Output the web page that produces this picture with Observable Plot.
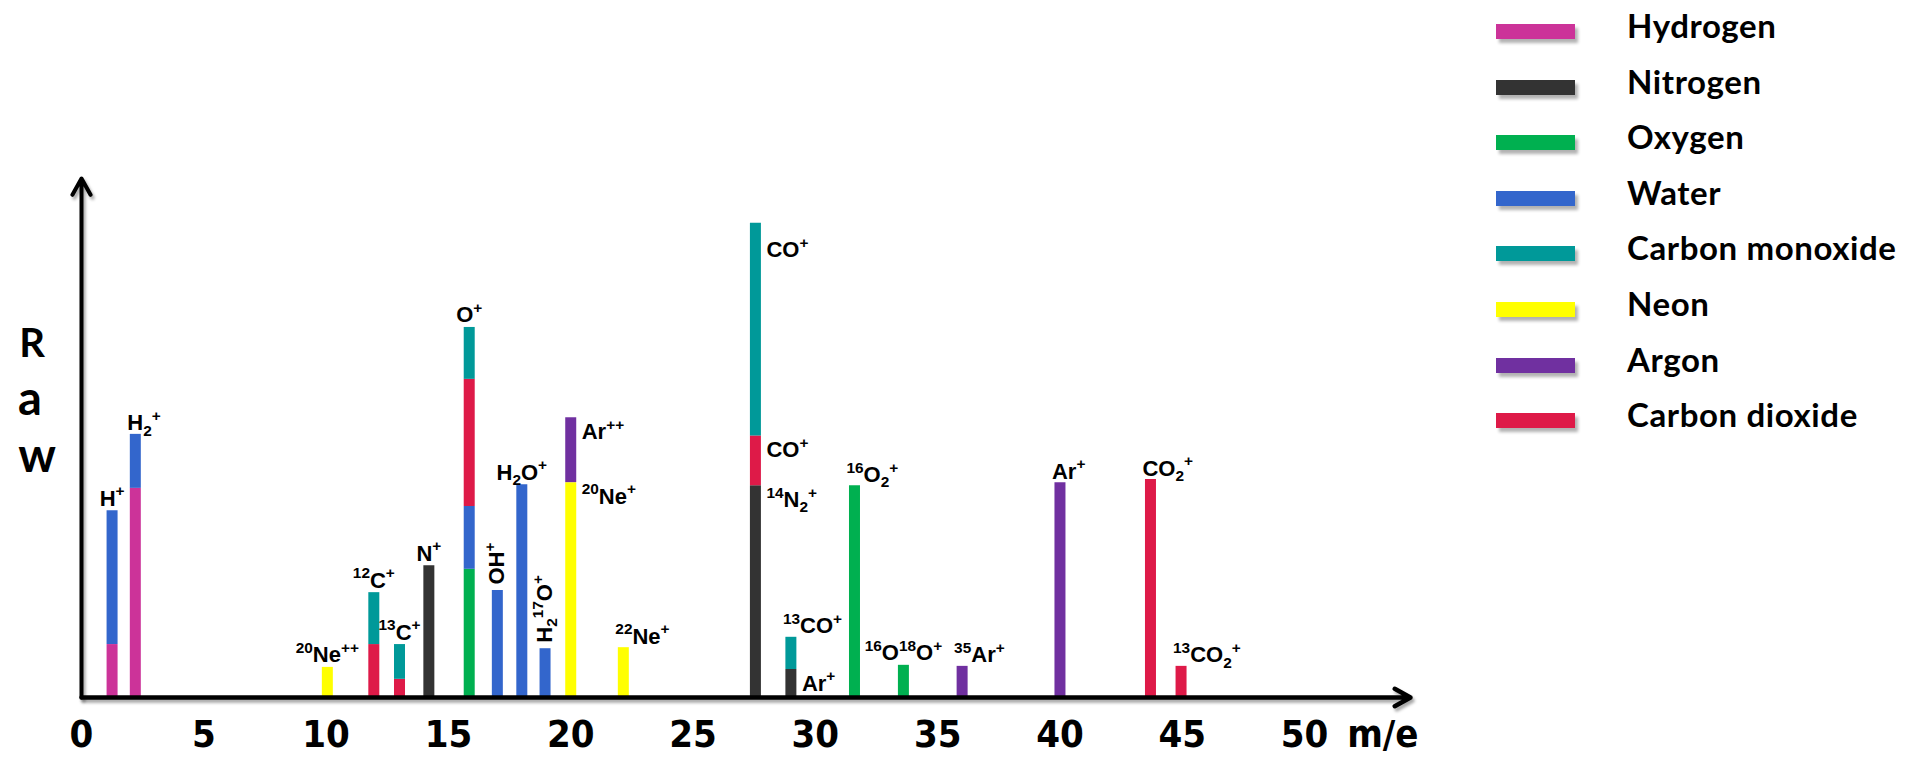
<!DOCTYPE html>
<html>
<head>
<meta charset="utf-8">
<script src="https://cdn.jsdelivr.net/npm/d3@7"></script>
<script src="https://cdn.jsdelivr.net/npm/@observablehq/plot@0.6"></script>
<style>
  html, body { margin: 0; padding: 0; background: #ffffff; }
  #wrap { position: relative; width: 1921px; height: 764px; overflow: hidden; background: #fff; }
  #chart { position: absolute; left: 0; top: 0; }
  #legend { position: absolute; left: 1496px; top: 0; font-family: Lato, "Open Sans", sans-serif; font-weight: bold; font-size: 33px; letter-spacing: 0.6px; color: #000; }
  .item { position: absolute; left: 0; height: 15px; white-space: nowrap; }
  .sw { position: absolute; left: 0; top: 0; width: 79px; height: 15px; box-shadow: 3px 4px 3px rgba(0,0,0,0.3); }
  .lab { position: absolute; left: 131px; top: -18px; line-height: 1.2; }
  #ylab { position: absolute; left: 0; top: 0; }
  .axisline { filter: drop-shadow(2px 3px 1.5px rgba(0,0,0,0.35)); }
  g[aria-label="x-axis tick label"] text { font-weight: bold; }
</style>
</head>
<body>
<div id="wrap">
  <div id="chart"></div>
  <div id="ylab"></div>
  <div id="legend"></div>
</div>
<script>
// ---------------- data ----------------
const gases = ["Hydrogen", "Nitrogen", "Oxygen", "Water", "Carbon monoxide", "Neon", "Argon", "Carbon dioxide"];
const gasColors = ["#CC3399", "#333333", "#00B050", "#3366CC", "#009999", "#FFFF00", "#7030A0", "#DE1A48"];

// peak positions (m/e) as drawn
const peakMz = [1.25, 2.2, 10.05, 11.95, 13.0, 14.2, 15.85, 17.0, 18.0, 18.95, 20.0, 22.15, 27.55, 29.0, 31.6, 33.6, 36.0, 40.0, 43.7, 44.95];

// stacked contributions, bottom to top (peak index, gas, raw intensity)
const segPeak  = [0, 0, 1, 1, 2, 3, 3, 4, 4, 5, 6, 6, 6, 6, 7, 8, 9, 10, 10, 11, 12, 12, 12, 13, 13, 14, 15, 16, 17, 18, 19];
const segGas   = ["Hydrogen", "Water", "Hydrogen", "Water", "Neon", "Carbon dioxide", "Carbon monoxide", "Carbon dioxide", "Carbon monoxide", "Nitrogen",
                  "Oxygen", "Water", "Carbon dioxide", "Carbon monoxide", "Water", "Water", "Water", "Neon", "Argon", "Neon",
                  "Nitrogen", "Carbon dioxide", "Carbon monoxide", "Nitrogen", "Carbon monoxide", "Oxygen", "Oxygen", "Argon", "Argon", "Carbon dioxide", "Carbon dioxide"];
const segValue = [10.2, 25.8, 40.3, 10.4, 5.8, 10.2, 10.0, 3.5, 6.7, 25.4,
                  24.7, 12.1, 24.5, 10.0, 20.6, 41.0, 9.4, 41.4, 12.5, 9.6,
                  40.8, 9.6, 41.0, 5.4, 6.2, 40.8, 6.2, 6.0, 41.4, 42.0, 6.0];

// peak labels: text (^{..} superscript, _{..} subscript), peak index, stack level (-1 = top), placement
const labelText  = ["H^{+}", "H_{2}^{+}", "^{20}Ne^{++}", "^{12}C^{+}", "^{13}C^{+}", "N^{+}", "O^{+}", "OH^{+}", "H_{2}O^{+}", "H_{2}^{17}O^{+}",
                    "Ar^{++}", "^{20}Ne^{+}", "^{22}Ne^{+}", "CO^{+}", "CO^{+}", "^{14}N_{2}^{+}", "^{13}CO^{+}", "Ar^{+}", "^{16}O_{2}^{+}", "^{16}O^{18}O^{+}",
                    "^{35}Ar^{+}", "Ar^{+}", "CO_{2}^{+}", "^{13}CO_{2}^{+}"];
const labelPeak  = [0, 1, 2, 3, 4, 5, 6, 7, 8, 9, 10, 10, 11, 12, 12, 12, 13, 13, 14, 15, 16, 17, 18, 19];
const labelLevel = [-1, -1, -1, -1, -1, -1, -1, -1, -1, -1, 2, 1, -1, 3, 2, 1, -1, 1, -1, -1, -1, -1, -1, -1];
const labelPlace = ["above", "aboveStart", "above", "above", "above", "above", "above", "rotated", "above", "rotated",
                    "right", "right", "aboveStart", "rightLow", "right", "right", "aboveStart", "right", "aboveStart", "above",
                    "aboveStart", "aboveStart", "aboveStart", "aboveStart"];

const xTicks = [0, 5, 10, 15, 20, 25, 30, 35, 40, 45, 50];
const xAxisEnd = 54.33;   // arrow tip of the m/e axis
const yAxisEnd = 100;     // arrow tip of the Raw axis
const xTitle = "m/e";
const yTitle = ["R", "a", "w"];

// ---------------- build ----------------
const segments = segPeak.map((p, i) => ({mz: peakMz[p], peak: p, gas: segGas[i], value: segValue[i]}));

function levelTop(peak, level) {
  const segs = segments.filter(s => s.peak === peak);
  const n = level < 0 ? segs.length : level;
  return d3.sum(segs.slice(0, n), s => s.value);
}
const labels = labelText.map((t, i) => ({
  text: t, x: peakMz[labelPeak[i]], y: levelTop(labelPeak[i], labelLevel[i]), place: labelPlace[i]
}));

const LBL = 22;
const labelFont = "'Liberation Sans', Arial, sans-serif";
const narrowFont = "'Liberation Sans Narrow', 'Arial Narrow', 'DejaVu Sans Condensed', sans-serif";

const placeOpts = {
  above:      {textAnchor: "middle", lineAnchor: "bottom", dx: 0,  dy: -5},
  aboveStart: {textAnchor: "start",  lineAnchor: "bottom", dx: -8, dy: -4},
  right:      {textAnchor: "start",  lineAnchor: "middle", dx: 11, dy: 14},
  rightLow:   {textAnchor: "start",  lineAnchor: "middle", dx: 11, dy: 27},
  rotated:    {textAnchor: "start",  lineAnchor: "middle", dx: 0,  dy: -6, rotate: -90}
};
const labelMarks = Object.entries(placeOpts).map(([k, o]) =>
  Plot.text(labels.filter(l => l.place === k), {
    x: "x", y: "y", text: "text", ...o,
    fontSize: LBL, fontWeight: "bold", fontFamily: labelFont, fill: "#000"
  })
);

const chart = Plot.plot({
  width: 1921,
  height: 764,
  marginLeft: 81,
  marginRight: 511,
  marginTop: 178,
  marginBottom: 67,
  style: {background: "transparent", overflow: "visible", fontFamily: labelFont},
  x: {domain: [0, xAxisEnd]},
  y: {domain: [0, yAxisEnd], axis: null},
  color: {domain: gases, range: gasColors},
  marks: [
    Plot.ruleX(segments, Plot.stackY({x: "mz", y: "value", stroke: "gas", strokeWidth: 11, order: null})),
    Plot.arrow([{x1: 0, y1: 0, x2: 0, y2: yAxisEnd}], {x1: "x1", y1: "y1", x2: "x2", y2: "y2", stroke: "#000", strokeWidth: 4, headLength: 7, headAngle: 58, className: "axisline"}),
    Plot.arrow([{x1: 0, y1: 0, x2: xAxisEnd, y2: 0}], {x1: "x1", y1: "y1", x2: "x2", y2: "y2", stroke: "#000", strokeWidth: 4.5, headLength: 6, headAngle: 58, className: "axisline"}),
    Plot.axisX({ticks: xTicks, tickSize: 0, tickPadding: 23, fontSize: 38, fontFamily: narrowFont, label: null, tickFormat: d => String(d)}),
    Plot.text([xTitle], {frameAnchor: "bottom-right", text: d => d, textAnchor: "end", lineAnchor: "top", dx: 8, dy: 23, fontSize: 38, fontWeight: "bold", fontFamily: narrowFont}),
    ...labelMarks
  ]
});
document.getElementById("chart").appendChild(chart);

// super/subscript rendering of the peak labels
const NS = "http://www.w3.org/2000/svg";
chart.querySelectorAll("text").forEach(t => {
  const s = t.textContent;
  if (!/[\^_]\{/.test(s)) return;
  while (t.firstChild) t.removeChild(t.firstChild);
  const re = /(\^|_)\{([^}]*)\}|([^^_]+)/g;
  let cur = 0, m;
  while ((m = re.exec(s))) {
    const ts = document.createElementNS(NS, "tspan");
    let target = 0, size = LBL;
    if (m[1] === "^") { target = -0.42 * LBL; size = 0.7 * LBL; ts.textContent = m[2]; }
    else if (m[1] === "_") { target = 0.24 * LBL; size = 0.7 * LBL; ts.textContent = m[2]; }
    else { ts.textContent = m[3]; }
    ts.setAttribute("font-size", size);
    if (target !== cur) ts.setAttribute("dy", target - cur);
    cur = target;
    t.appendChild(ts);
  }
});

// vertical "R a w" title
const ysvg = d3.select("#ylab").append("svg").attr("width", 70).attr("height", 764)
  .style("font-family", "Lato, 'Open Sans', sans-serif").style("font-weight", "bold");
const yPos = [[32, 357, 40], [30, 415, 47], [37, 472, 47]];
yTitle.forEach((c, i) => {
  ysvg.append("text").attr("x", yPos[i][0]).attr("y", yPos[i][1]).attr("text-anchor", "middle")
    .attr("font-size", yPos[i][2]).text(c);
});

// legend
const legend = d3.select("#legend");
gases.forEach((g, i) => {
  const it = legend.append("div").attr("class", "item").style("top", (24 + i * 55.6) + "px");
  it.append("div").attr("class", "sw").style("background", gasColors[i]);
  it.append("div").attr("class", "lab").text(g);
});
</script>
</body>
</html>
